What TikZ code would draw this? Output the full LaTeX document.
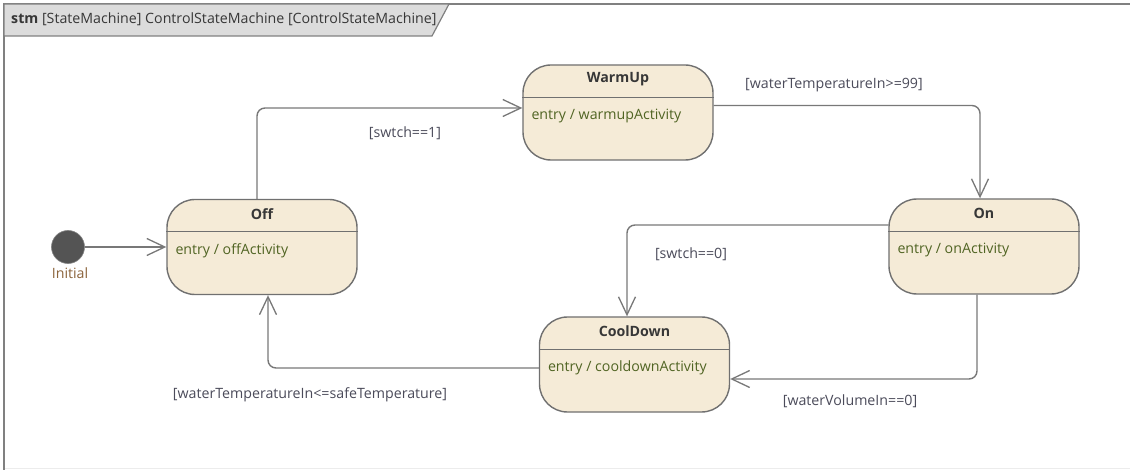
\documentclass[tikz,border=0pt]{standalone}
\usepackage{fontspec}
\setmainfont{Open Sans}
\usetikzlibrary{arrows.meta}
\definecolor{statefill}{RGB}{245,235,215}
\definecolor{stateline}{RGB}{112,112,112}
\definecolor{edgeline}{RGB}{120,120,120}
\definecolor{entrycol}{RGB}{80,100,35}
\definecolor{titlecol}{RGB}{55,55,55}
\definecolor{labelcol}{RGB}{75,75,90}
\definecolor{initcol}{RGB}{140,100,60}
\definecolor{tabfill}{RGB}{220,220,220}
\definecolor{framecol}{RGB}{128,128,128}
\newcommand{\dfont}{\fontsize{14.2}{16}\selectfont}
\tikzset{
  state/.style={draw=stateline, line width=1.4pt, fill=statefill, rounded corners=28pt,
    minimum width=190pt, minimum height=95pt, inner sep=0pt},
  divider/.style={draw=stateline, line width=1.2pt},
  stitle/.style={font=\dfont\bfseries, text=titlecol, inner sep=0pt},
  sentry/.style={font=\dfont, text=entrycol, inner sep=0pt, anchor=west},
  guard/.style={font=\dfont, text=labelcol, inner sep=0pt},
  tr/.style={draw=edgeline, line width=1.4pt, rounded corners=8pt,
    -{Straight Barb[length=18pt,width=17pt,line width=1.3pt]}},
}
\begin{document}
\begin{tikzpicture}[x=1pt,y=-1pt]
\useasboundingbox (0,0) rectangle (1130,470);
\fill[white] (0,0) rectangle (1130,470);
% frame
\draw[gray!15, line width=1pt] (4,468) -- (1130,468);
\draw[framecol, line width=2pt] (1130,4) -- (4,4) -- (4,470);
\draw[framecol, line width=1.2pt, fill=tabfill] (4,4) -- (449,4) -- (432,36) -- (4,36) -- cycle;
\node[anchor=west, inner sep=0pt, font=\dfont, text=titlecol] (hdr) at (11,19)
  {\textbf{stm} [StateMachine] ControlStateMachine [ControlStateMachine]};
% initial
\node[circle, fill=black!67, draw=black!50, line width=0.6pt, minimum size=33pt, inner sep=0pt] (init) at (68,247) {};
\node[font=\dfont, text=initcol, inner sep=0pt] (initlbl) at (70,273) {Initial};
% states
\newcommand{\umlstate}[4]{%
  \node[state] (#1) at (#2) {};
  \draw[divider] ([yshift=-33pt]#1.north west) -- ([yshift=-33pt]#1.north east);
  \node[stitle] (#1-t) at ([yshift=-15pt]#1.north) {#3};
  \node[sentry] (#1-e) at ([xshift=9pt,yshift=-51.5pt]#1.north west) {entry / #4};
}
\umlstate{off}{262,247}{Off}{offActivity}
\umlstate{warmup}{618,112.5}{WarmUp}{warmupActivity}
\umlstate{on}{984,246.5}{On}{onActivity}
\umlstate{cooldown}{634.5,364.5}{CoolDown}{cooldownActivity}
% transitions
\draw[tr] (init) -- (off);
\draw[tr] ([xshift=-5pt]off.north) |- ([yshift=4.5pt]warmup.west);
\draw[tr] ([yshift=7pt]warmup.east) -| ([xshift=-4pt]on.north);
\draw[tr] ([yshift=21.5pt]on.west) -| ([xshift=-7.5pt]cooldown.north);
\draw[tr] ([xshift=-7pt]on.south) |- ([yshift=-14.5pt]cooldown.east);
\draw[tr] ([yshift=-3.5pt]cooldown.west) -| ([xshift=6pt]off.south);
% guards
\node[guard] (g1) at (405,133) {[swtch==1]};
\node[guard] (g2) at (834,85) {[waterTemperatureIn>=99]};
\node[guard] (g3) at (691,254) {[swtch==0]};
\node[guard] (g4) at (850,401) {[waterVolumeIn==0]};
\node[guard] (g5) at (310,395) {[waterTemperatureIn<=safeTemperature]};
\end{tikzpicture}
\end{document}
